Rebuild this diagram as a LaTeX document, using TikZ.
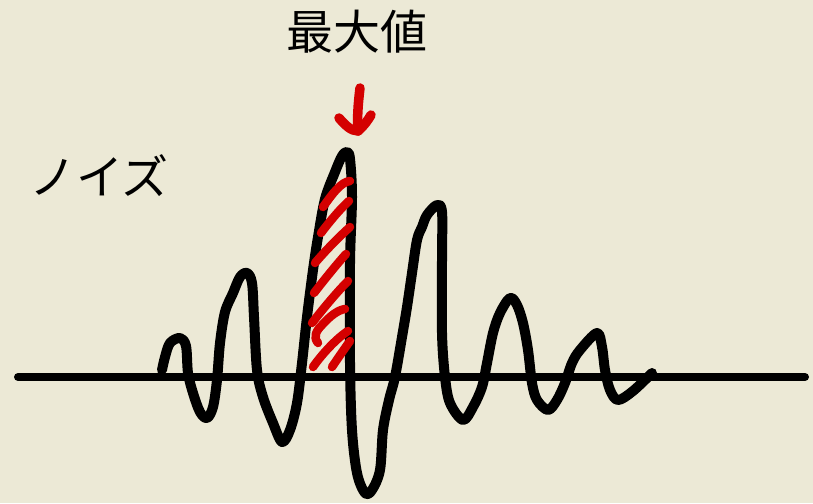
\documentclass[tikz,border=0pt]{standalone}
\usepackage{fontspec}
\newfontfamily\cjk{Noto Sans CJK JP}
\definecolor{bgcol}{RGB}{236,233,214}
\definecolor{penred}{RGB}{212,0,0}
\tikzset{
  wave/.style={line width=10pt, line cap=round, line join=round, black},
  axisline/.style={line width=8pt, line cap=round, black},
  hatch/.style={line width=8.5pt, line cap=round, line join=round, penred},
  lbl/.style={font=\cjk\fontsize{47}{47}\selectfont, inner sep=0pt, text=black}
}
\begin{document}
\begin{tikzpicture}[x=1pt,y=-1pt]
\fill[bgcol] (0,0) rectangle (813,503);
\useasboundingbox (0,0) rectangle (813,503);
% axis
\coordinate (axL) at (18,377);
\coordinate (axR) at (805,377);
\draw[axisline] (axL) -- (axR);
% wave
\draw[wave] plot[smooth, tension=0.55] coordinates {
(162,370) (165,357) (170,343) (180,338) (186,346) (188,373) (193,393) (200,412) (207,418)
(213,407) (217,380) (220,343) (225,312) (233,293) (240,277) (247,273) (252,283) (254,317)
(257,370) (263,397) (273,423) (282,442) (290,430) (297,403) (302,363) (307,317) (313,270)
(318,237) (325,199) (335,172) (342,156) (347,152) (350,159) (352,197) (350,263) (350,363)
(352,430) (357,473) (365,493) (372,490) (380,470) (383,430) (389,400) (395,377) (402,337)
(407,307) (412,273) (417,240) (422,227) (427,215) (437,205) (442,212) (442,257) (442,333)
(445,377) (450,403) (463,420) (473,407) (482,387) (487,363) (493,333) (500,313) (510,298)
(517,305) (523,323) (528,350) (532,383) (537,400) (548,410) (557,400) (565,383) (572,363)
(580,350) (597,333) (602,347) (605,370) (610,390) (618,400) (633,391) (652,373)};
% red hatching
\draw[hatch] (323,207) .. controls (333,193) and (341,182) .. (350,181);
\draw[hatch] (321,233) .. controls (330,221) and (341,208) .. (349,201);
\draw[hatch] (315,263) .. controls (326,250) and (340,236) .. (350,227);
\draw[hatch] (314,293) .. controls (324,280) and (337,264) .. (346,254);
\draw[hatch] (312,323) .. controls (322,310) and (337,292) .. (348,281);
\draw[hatch] (318,343) .. controls (313,337) and (316,331) .. (322,325) .. controls (330,316) and (338,310) .. (345,309);
\draw[hatch] (313,367) .. controls (322,354) and (337,338) .. (348,331);
\draw[hatch] (332,367) .. controls (338,358) and (345,348) .. (350,341);
% arrow
\coordinate (arTop) at (360,88);
\coordinate (arTip) at (358,131);
\draw[hatch, line width=9.5pt] (arTop) .. controls (358,105) and (357,118) .. (arTip);
\draw[hatch, line width=9.5pt] (339,118) .. controls (345,125) and (351,131) .. (arTip) .. controls (364,126) and (368,120) .. (371,115);
% labels
\node[lbl] (maxv) at (357,32) {最大値};
\node[lbl] (noise) at (99,176) {ノイズ};
\end{tikzpicture}
\end{document}
